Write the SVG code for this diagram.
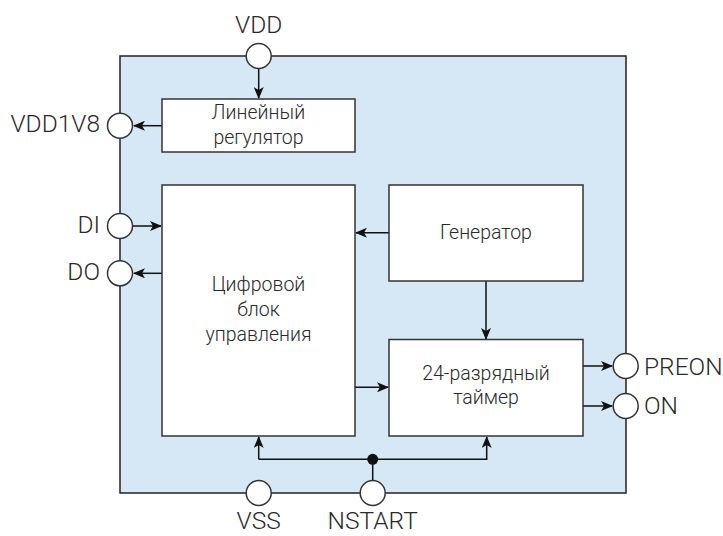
<svg xmlns="http://www.w3.org/2000/svg" width="723" height="536" viewBox="0 0 723 536">
<defs>
<marker id="arr" viewBox="0 0 12 10" refX="11" refY="5" markerWidth="12" markerHeight="10" markerUnits="userSpaceOnUse" orient="auto">
<path d="M0,0 L12,5 L0,10 L3,5 Z" fill="#111"/>
</marker>
</defs>
<style>
.box{fill:#fff;stroke:#333;stroke-width:1.5}
.pin{fill:#fff;stroke:#333;stroke-width:1.5}
.ln{fill:none;stroke:#111;stroke-width:1.5}
.t{font-family:"Roboto Light",Roboto,"Liberation Sans",sans-serif;font-weight:300;fill:#2a2a2a}
.in{font-size:19.5px;text-anchor:middle}
.lb{font-size:24.5px}
</style>
<rect id="chip" x="120" y="56" width="506" height="437" fill="#d6e8f5" stroke="#222" stroke-width="1.5"/>
<g id="connectors">
<line class="ln" x1="258.7" y1="69" x2="258.7" y2="98" marker-end="url(#arr)"/>
<line class="ln" x1="162" y1="125.7" x2="134" y2="125.7" marker-end="url(#arr)"/>
<line class="ln" x1="133" y1="226" x2="161" y2="226" marker-end="url(#arr)"/>
<line class="ln" x1="162" y1="273.3" x2="134" y2="273.3" marker-end="url(#arr)"/>
<line class="ln" x1="389" y1="232.7" x2="356" y2="232.7" marker-end="url(#arr)"/>
<line class="ln" x1="486" y1="281" x2="486" y2="339" marker-end="url(#arr)"/>
<line class="ln" x1="355" y1="387.3" x2="388" y2="387.3" marker-end="url(#arr)"/>
<line class="ln" x1="583" y1="366" x2="612" y2="366" marker-end="url(#arr)"/>
<line class="ln" x1="583" y1="406" x2="612" y2="406" marker-end="url(#arr)"/>
<polyline class="ln" points="258.7,459.3 486.7,459.3 486.7,437" marker-end="url(#arr)"/>
<line class="ln" x1="258.7" y1="459.3" x2="258.7" y2="437" marker-end="url(#arr)"/>
<line class="ln" x1="372.7" y1="459.3" x2="372.7" y2="480"/>
<circle cx="372.7" cy="459.3" r="5.5" fill="#111"/>
</g>
<g id="regulator">
<rect class="box" x="162" y="99" width="193" height="53"/>
<text class="t in" x="258.5" y="119">Линейный</text>
<text class="t in" x="258.5" y="144">регулятор</text>
</g>
<g id="digital">
<rect class="box" x="162" y="185" width="193" height="251"/>
<text class="t in" x="258.5" y="291">Цифровой</text>
<text class="t in" x="258.5" y="316">блок</text>
<text class="t in" x="258.5" y="341">управления</text>
</g>
<g id="generator">
<rect class="box" x="389" y="185" width="194" height="96"/>
<text class="t in" x="486" y="239">Генератор</text>
</g>
<g id="timer">
<rect class="box" x="389" y="339.5" width="194" height="96.5"/>
<text class="t in" x="486" y="380">24-разрядный</text>
<text class="t in" x="486" y="404">таймер</text>
</g>
<g id="pin-vdd">
<circle class="pin" cx="258.7" cy="56" r="12.5"/>
<text class="t lb" x="258.7" y="33" text-anchor="middle">VDD</text>
</g>
<g id="pin-vdd1v8">
<circle class="pin" cx="120" cy="125.7" r="12.5"/>
<text class="t lb" x="100" y="132.3" text-anchor="end">VDD1V8</text>
</g>
<g id="pin-di">
<circle class="pin" cx="120" cy="226" r="12.5"/>
<text class="t lb" x="100" y="232.5" text-anchor="end">DI</text>
</g>
<g id="pin-do">
<circle class="pin" cx="120" cy="273.3" r="12.5"/>
<text class="t lb" x="100" y="280" text-anchor="end">DO</text>
</g>
<g id="pin-preon">
<circle class="pin" cx="625.7" cy="366" r="12.5"/>
<text class="t lb" x="644" y="375">PREON</text>
</g>
<g id="pin-on">
<circle class="pin" cx="625.7" cy="406" r="12.5"/>
<text class="t lb" x="644" y="414">ON</text>
</g>
<g id="pin-vss">
<circle class="pin" cx="258.7" cy="493" r="12.5"/>
<text class="t lb" x="258.7" y="529" text-anchor="middle">VSS</text>
</g>
<g id="pin-nstart">
<circle class="pin" cx="372.7" cy="493" r="12.5"/>
<text class="t lb" x="372.7" y="529" text-anchor="middle">NSTART</text>
</g>
</svg>
